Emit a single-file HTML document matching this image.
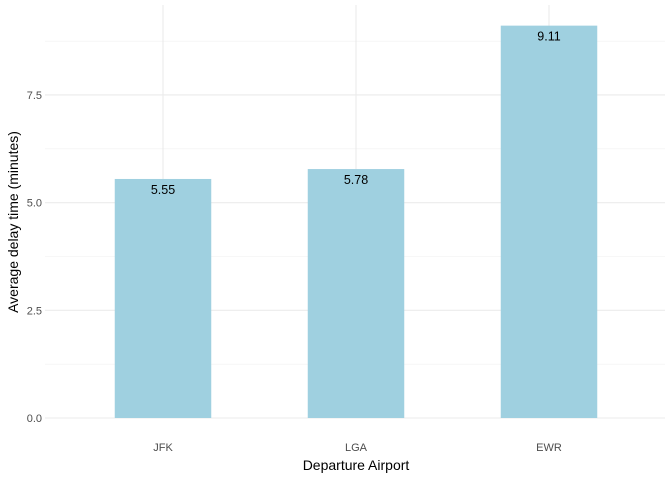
<!DOCTYPE html>
<html><head><meta charset="utf-8"><style>
body{margin:0;background:#fff;}
svg{display:block;font-family:"Liberation Sans",Arial,sans-serif;}
</style></head><body>
<svg id="chart" width="672" height="480" viewBox="0 0 672 480">
<g id="grid"></g><g id="bars"></g><g id="labels"></g><g id="axes"></g>
<text x="356" y="470" text-anchor="middle" font-size="14" fill="#000">Departure Airport</text>
<text transform="translate(18,222) rotate(-90)" text-anchor="middle" font-size="14" fill="#000">Average delay time (minutes)</text>
</svg>
<script>
const categories = ["JFK","LGA","EWR"];
const values = [5.55,5.78,9.11];
const valueLabels = ["5.55","5.78","9.11"];
const yTicks = [0,2.5,5,7.5];
const yTickLabels = ["0.0","2.5","5.0","7.5"];
const yMinor = [1.25,3.75,6.25,8.75];

const NS="http://www.w3.org/2000/svg";
const px0=45, px1=665, py0=418, pxPerUnit=43.07;
const y = v => py0 - v*pxPerUnit;
const step = 193;
const x = i => 163 + i*step;
const bw = step*0.5;
function mk(tag, attrs, parent){const e=document.createElementNS(NS,tag);for(const k in attrs)e.setAttribute(k,attrs[k]);document.getElementById(parent).appendChild(e);return e;}

yMinor.forEach(v=>{
  const l=mk("line",{x1:px0,x2:px1,y1:y(v),y2:y(v),stroke:"#f0f0f0","stroke-width":0.6},"grid");
  
  
});
yTicks.forEach((v,i)=>{
  const l=mk("line",{x1:px0,x2:px1,y1:y(v),y2:y(v),stroke:"#ebebeb","stroke-width":1.1},"grid");
  
  
  const t=mk("text",{x:42,y:y(v)+4,"text-anchor":"end","font-size":"11",fill:"#4d4d4d"},"axes");
  t.textContent=yTickLabels[i];
  
  
});
categories.forEach((c,i)=>{
  const l=mk("line",{x1:x(i),x2:x(i),y1:5,y2:py0,stroke:"#ebebeb","stroke-width":1.1},"grid");
  
  
  const r=mk("rect",{x:x(i)-bw/2,y:y(values[i]),width:bw,height:py0-y(values[i]),fill:"#9fd0e0"},"bars");
  
  
  const t=mk("text",{x:x(i),y:y(values[i])+15,"text-anchor":"middle","font-size":"12.5",fill:"#000"},"labels");
  t.textContent=valueLabels[i];
  
  
  const xt=mk("text",{x:x(i),y:451,"text-anchor":"middle","font-size":"11",fill:"#4d4d4d"},"axes");
  xt.textContent=c;
  
  
});
</script>
</body></html>
